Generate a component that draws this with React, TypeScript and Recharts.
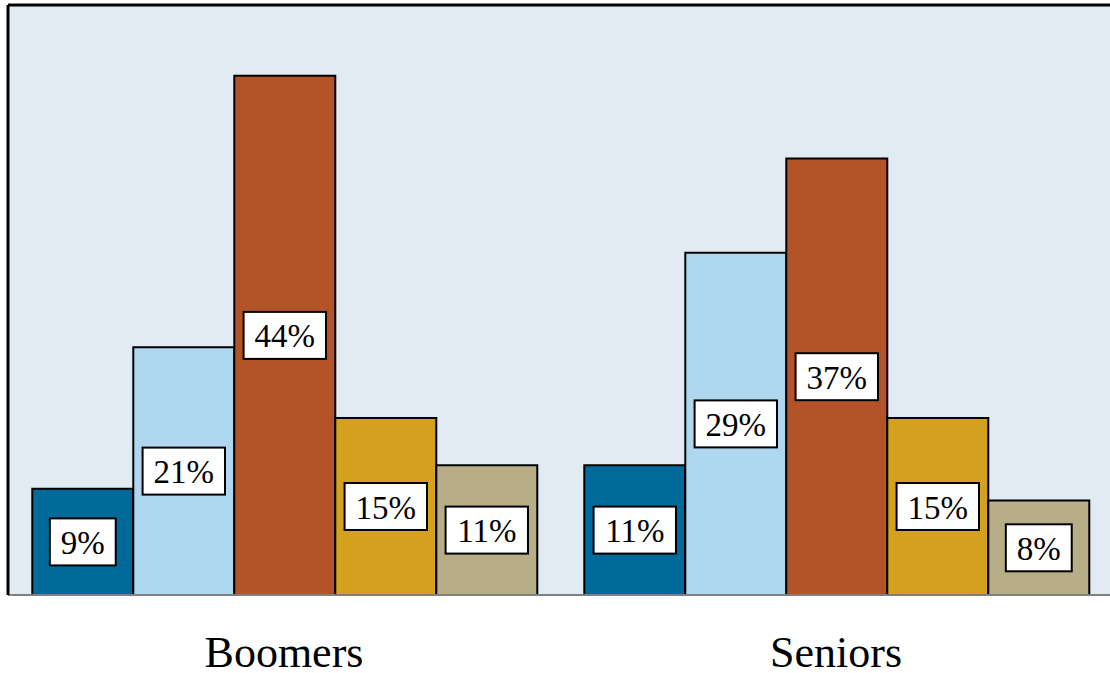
import * as React from "react";
import {
  BarChart,
  Bar,
  XAxis,
  YAxis,
  CartesianGrid,
  LabelList,
  ReferenceLine,
} from "recharts";

const categories = ["Boomers", "Seniors"];
const seriesA = [9, 11];
const seriesB = [21, 29];
const seriesC = [44, 37];
const seriesD = [15, 15];
const seriesE = [11, 8];

const seriesKeys = ["a", "b", "c", "d", "e"];
const colors = ["#006A9A", "#AFD7EF", "#B35428", "#D3A11D", "#B7AE87"];

const data = categories.map((name, i) => ({
  name,
  a: seriesA[i],
  b: seriesB[i],
  c: seriesC[i],
  d: seriesD[i],
  e: seriesE[i],
}));

const FONT = "'Liberation Serif', 'DejaVu Serif', serif";

// white box with the value, centred in the bar
function BoxLabel(props: any) {
  const { x, y, width, height, value } = props;
  const text = `${value}%`;
  const fs = 33;
  const textW = text.replace("%", "").length * fs * 0.5 + fs * 0.83;
  const w = textW + 22;
  const h = 47;
  const cx = x + width / 2;
  const cy = y + height / 2;
  return (
    <g>
      <rect
        x={cx - w / 2}
        y={cy - h / 2}
        width={w}
        height={h}
        fill="#fff"
        stroke="#000"
        strokeWidth={2}
      />
      <text
        x={cx}
        y={cy + 1}
        textAnchor="middle"
        dominantBaseline="central"
        fontSize={fs}
        fontFamily={FONT}
        fill="#000"
      >
        {text}
      </text>
    </g>
  );
}

function CatTick(props: any) {
  const { x, y, payload } = props;
  return (
    <text
      x={x}
      y={y + 57}
      textAnchor="middle"
      dominantBaseline="central"
      fontSize={44}
      fontFamily={FONT}
      fill="#000"
    >
      {payload.value}
    </text>
  );
}

export default function App() {
  return (
    <div
      style={{
        position: "absolute",
        left: 0,
        top: 0,
        width: 1110,
        height: 673,
        overflow: "hidden",
        background: "#fff",
      }}
    >
      <BarChart
        width={1114}
        height={673}
        data={data}
        margin={{ top: 5, right: 2, bottom: 0, left: 7 }}
        barGap={0}
        barCategoryGap="4.4%"
      >
        <CartesianGrid
          fill="#E2EAF4"
          horizontal={false}
          vertical={false}
        />
        <XAxis
          dataKey="name"
          axisLine={{ stroke: "#808080", strokeWidth: 2 }}
          tickLine={false}
          tickSize={0}
          tickMargin={0}
          tick={<CatTick />}
          height={78}
        />
        <YAxis
          domain={[0, 50]}
          width={1}
          tick={false}
          tickLine={false}
          axisLine={{ stroke: "#000", strokeWidth: 3 }}
        />
        <ReferenceLine y={50} stroke="#000" strokeWidth={3} />
        {seriesKeys.map((k, i) => (
          <Bar
            key={k}
            dataKey={k}
            fill={colors[i]}
            stroke="#000"
            strokeWidth={2}
            isAnimationActive={false}
          >
            <LabelList dataKey={k} content={<BoxLabel />} />
          </Bar>
        ))}
      </BarChart>
    </div>
  );
}
